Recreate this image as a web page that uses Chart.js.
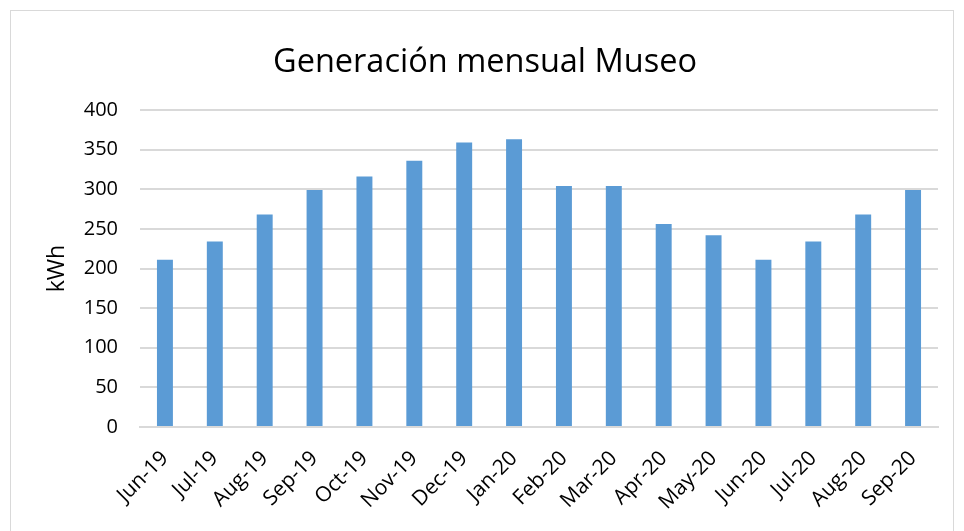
<!DOCTYPE html>
<html>
<head>
<meta charset="utf-8">
<script src="https://cdn.jsdelivr.net/npm/chart.js@4/dist/chart.umd.min.js"></script>
<style>
  html, body { margin: 0; padding: 0; background: #ffffff; }
  #wrap { position: relative; width: 964px; height: 531px; }
  #frame { position: absolute; left: 10px; top: 10px; width: 944px; height: 530px; border: 1px solid #d9d9d9; box-sizing: border-box; pointer-events: none; }
</style>
</head>
<body>
<div id="wrap">
  <canvas id="c" width="964" height="531"></canvas>
  <div id="frame"></div>
</div>
<script>
const categories = ["Jun-19","Jul-19","Aug-19","Sep-19","Oct-19","Nov-19","Dec-19","Jan-20","Feb-20","Mar-20","Apr-20","May-20","Jun-20","Jul-20","Aug-20","Sep-20"];
const generacion = [211, 234, 268, 299, 316, 336, 359, 363, 304, 304, 256, 242, 211, 234, 268, 299];
const chartTitle = "Generación mensual Museo";
const yTitle = "kWh";
const yMin = 0, yMax = 400, yStep = 50;

const FONT = "'Open Sans', 'Liberation Sans', sans-serif";

new Chart(document.getElementById('c'), {
  type: 'bar',
  data: {
    labels: categories,
    datasets: [{
      label: 'kWh',
      data: generacion,
      backgroundColor: '#5B9BD5',
      borderWidth: 0,
      categoryPercentage: 1.0,
      barPercentage: 0.32
    }]
  },
  options: {
    responsive: false,
    animation: false,
    layout: { padding: { left: 32, right: 26, top: 0, bottom: 0 } },
    plugins: {
      legend: { display: false },
      tooltip: { enabled: false },
      title: {
        display: true,
        text: chartTitle,
        color: '#000000',
        font: { family: FONT, size: 32.5, weight: 'normal', lineHeight: 1.2 },
        padding: { top: 43.5, bottom: 27.5 }
      }
    },
    scales: {
      x: {
        grid: { display: false, drawTicks: false },
        border: { display: true, color: '#d9d9d9', width: 2 },
        ticks: {
          color: '#000000',
          font: { family: FONT, size: 21 },
          maxRotation: 45, minRotation: 45,
          padding: 19,
          autoSkip: false
        },
        afterFit: (s) => { s.height = 104; }
      },
      y: {
        min: yMin, max: yMax,
        grid: { color: '#d9d9d9', lineWidth: 2, drawTicks: false },
        border: { display: false },
        ticks: {
          stepSize: yStep,
          color: '#000000',
          font: { family: FONT, size: 20 },
          padding: 22
        },
        title: {
          display: true,
          text: yTitle,
          color: '#000000',
          font: { family: FONT, size: 23 },
          padding: { top: 12, bottom: 0 }
        },
        afterFit: (s) => { s.width = 108; }
      }
    }
  }
});
</script>
</body>
</html>
